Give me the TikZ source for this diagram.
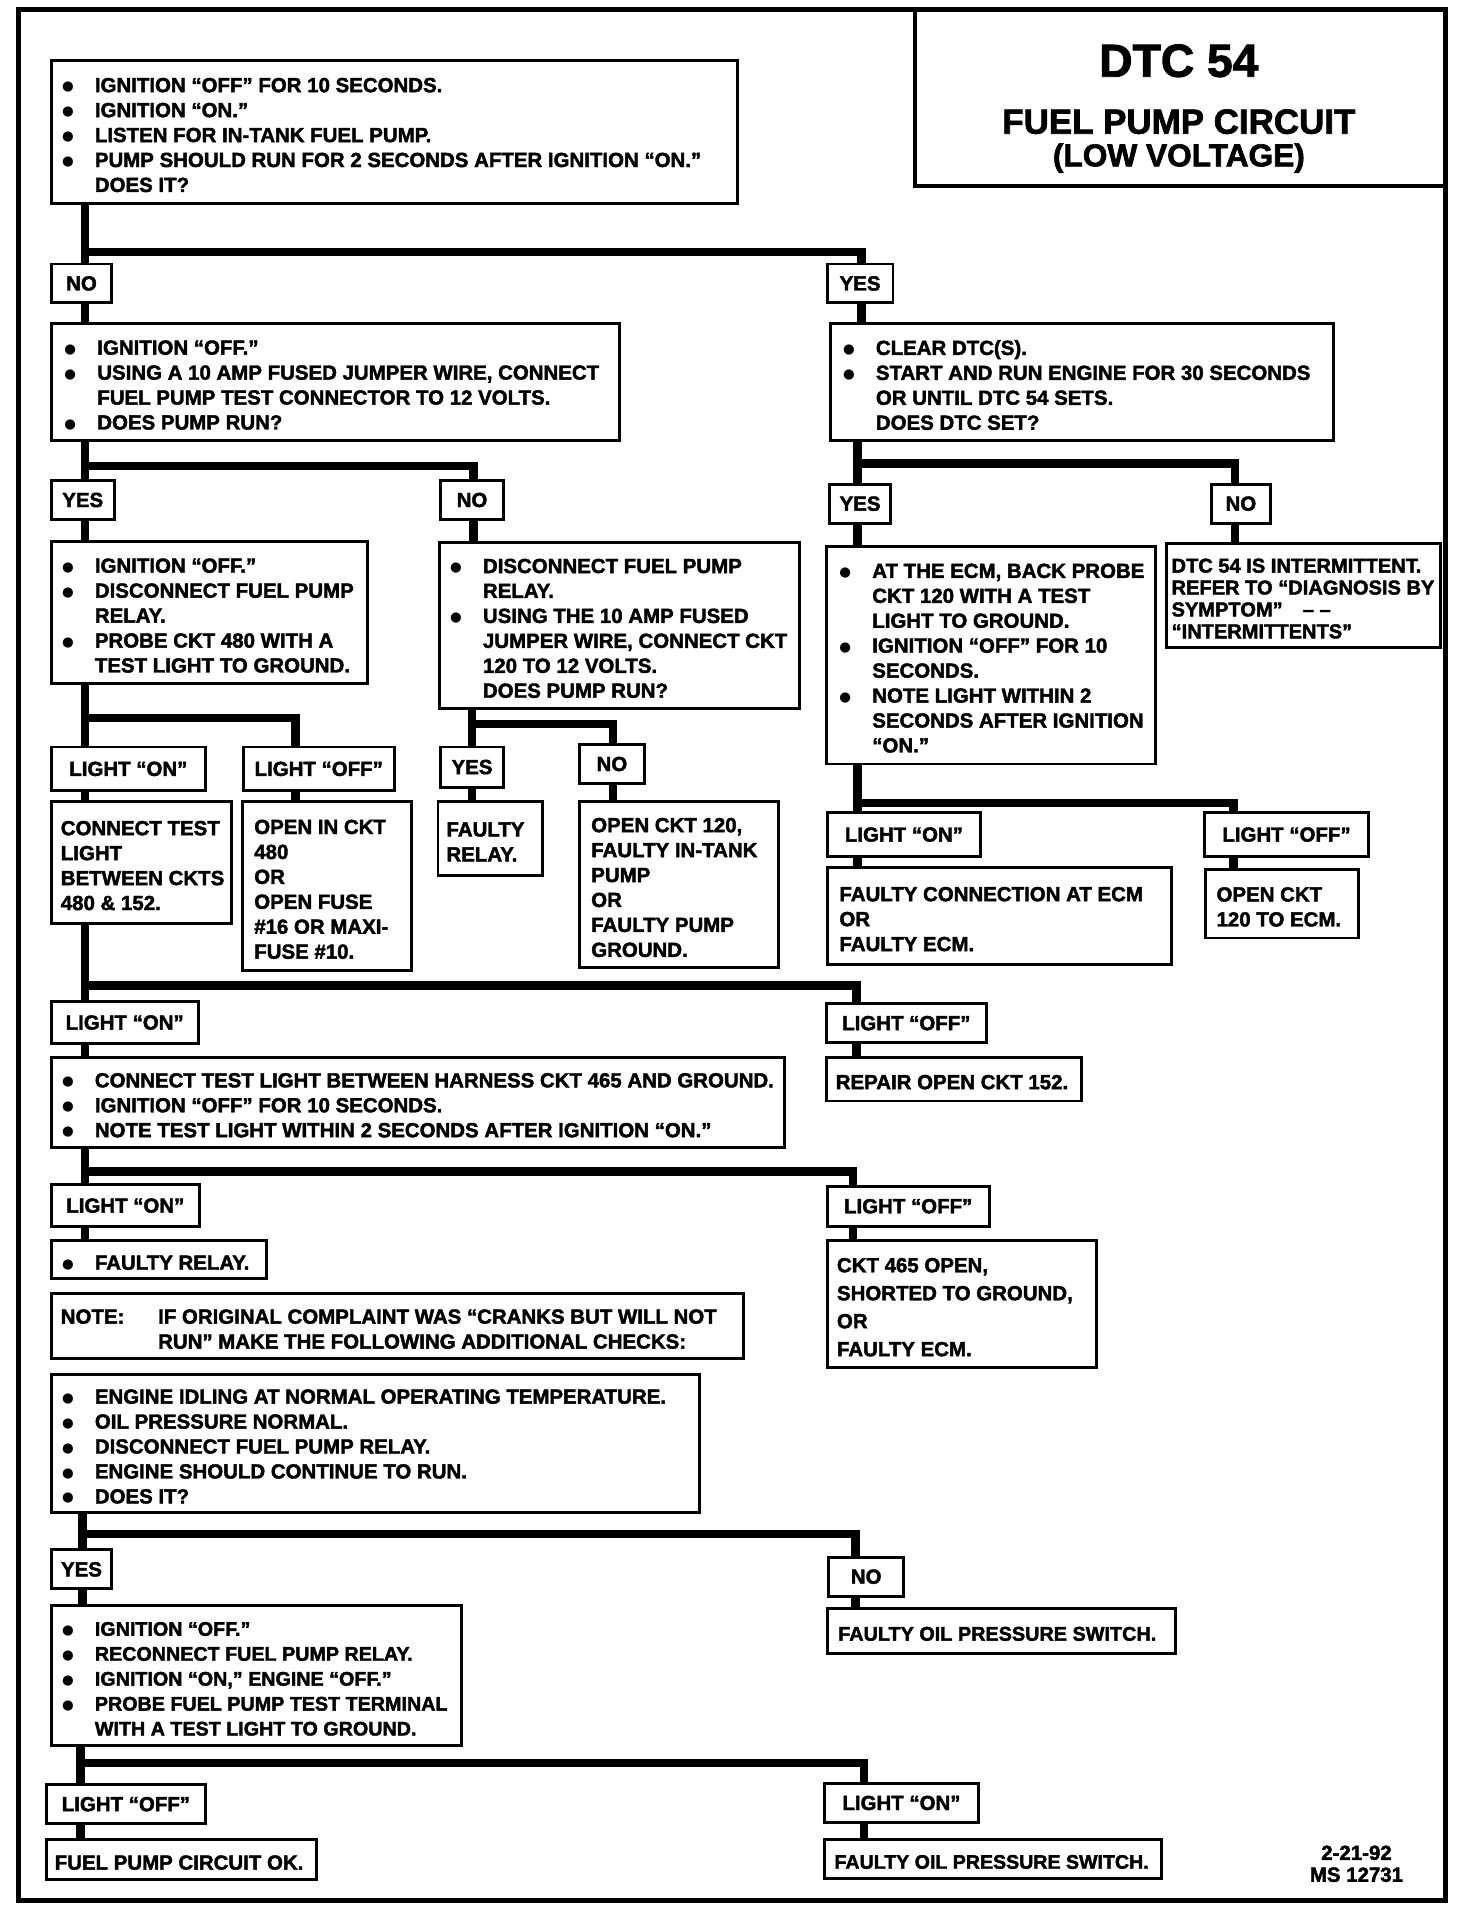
\documentclass[tikz,border=0pt]{standalone}
\usepackage{fontspec}
\setmainfont{Liberation Sans}[BoldFeatures={FakeBold=2}]
\newfontfamily\dv{DejaVu Sans}
\newcommand{\bodyfont}{\fontsize{16.8}{20.5}\selectfont\bfseries}
\newcommand{\bu}{\makebox[27pt][l]{\raisebox{1.2pt}{\dv\fontsize{11}{11}\selectfont ●}}}
\newcommand{\ind}{\hspace*{27pt}}
\begin{document}
\begin{tikzpicture}[x=1pt,y=-1pt,
  box/.style={draw, line width=2.4pt, fill=white, inner sep=0pt, outer sep=0pt},
  txt/.style={inner sep=0pt, outer sep=0pt, font=\bodyfont, align=left, yshift=-2.5pt},
  lab/.style={inner sep=0pt, outer sep=0pt, font=\bodyfont, align=center},
  conn/.style={line width=7pt, line join=miter}]
\useasboundingbox (0,0) rectangle (1210,1570);
\NewDocumentCommand{\mkbox}{O{9} O{} m m m m m m}{%
  \pgfmathsetmacro\bw{#6-#4}\pgfmathsetmacro\bh{#7-#5}%
  \node[box, minimum width=\bw pt, minimum height=\bh pt, anchor=north west] (#3) at (#4,#5) {};
  \node[txt, anchor=west, #2] (#3-t) at ([xshift=#1pt]#3.west) {#8};}
\newcommand{\mkcbox}[6]{%
  \pgfmathsetmacro\bw{#4-#2}\pgfmathsetmacro\bh{#5-#3}%
  \node[box, minimum width=\bw pt, minimum height=\bh pt, anchor=north west] (#1) at (#2,#3) {};
  \node[lab] (#1-t) at (#1.center) {#6};}
% frame and title
\node[draw, line width=4pt, minimum width=1173pt, minimum height=1554pt, anchor=north west, inner sep=0pt, outer sep=0pt] (frame) at (15,8) {};
\node[draw, line width=3pt, minimum width=436pt, minimum height=145pt, anchor=north west, inner sep=0pt, outer sep=0pt] (title) at (752,8) {};
\node[inner sep=0pt, font=\fontsize{38}{38}\selectfont\bfseries] (t1) at (969,50) {DTC 54};
\node[inner sep=0pt, font=\fontsize{28.7}{30}\selectfont\bfseries] (t2) at (969,100) {FUEL PUMP CIRCUIT};
\node[inner sep=0pt, font=\fontsize{26}{28}\selectfont\bfseries] (t3) at (969,130) {(LOW VOLTAGE)};
% boxes
\mkbox{A}{42}{50}{606}{167}{\bu IGNITION “OFF” FOR 10 SECONDS.\\ \bu IGNITION “ON.”\\ \bu LISTEN FOR IN-TANK FUEL PUMP.\\ \bu PUMP SHOULD RUN FOR 2 SECONDS AFTER IGNITION “ON.”\\ \ind DOES IT?}
\mkcbox{NO1}{42}{217}{92}{249}{NO}
\mkcbox{YES1}{680}{217}{734}{249}{YES}
\mkbox[11]{B}{42}{266}{509}{362}{\bu IGNITION “OFF.”\\ \bu USING A 10 AMP FUSED JUMPER WIRE, CONNECT\\ \ind FUEL PUMP TEST CONNECTOR TO 12 VOLTS.\\ \bu DOES PUMP RUN?}
\mkbox[10]{C}{683}{266}{1096}{362}{\bu CLEAR DTC(S).\\ \bu START AND RUN ENGINE FOR 30 SECONDS\\ \ind OR UNTIL DTC 54 SETS.\\ \ind DOES DTC SET?}
\mkcbox{YES2}{42}{395}{94}{427}{YES}
\mkcbox{NO2}{362}{395}{414}{427}{NO}
\mkcbox{YES3}{682}{398}{732}{430}{YES}
\mkcbox{NO3}{996}{398}{1044}{430}{NO}
\mkbox{D}{42}{445}{302}{562}{\bu IGNITION “OFF.”\\ \bu DISCONNECT FUEL PUMP\\ \ind RELAY.\\ \bu PROBE CKT 480 WITH A\\ \ind TEST LIGHT TO GROUND.}
\mkbox{E}{361}{446}{657}{582}{\bu DISCONNECT FUEL PUMP\\ \ind RELAY.\\ \bu USING THE 10 AMP FUSED\\ \ind JUMPER WIRE, CONNECT CKT\\ \ind 120 TO 12 VOLTS.\\ \ind DOES PUMP RUN?}
\mkbox[11]{F}{679}{449}{950}{628}{\bu AT THE ECM, BACK PROBE\\ \ind CKT 120 WITH A TEST\\ \ind LIGHT TO GROUND.\\ \bu IGNITION “OFF” FOR 10\\ \ind SECONDS.\\ \bu NOTE LIGHT WITHIN 2\\ \ind SECONDS AFTER IGNITION\\ \ind “ON.”}
\mkbox[4][font=\fontsize{16.5}{18}\selectfont\bfseries]{G}{959}{447}{1184}{532}{DTC 54 IS INTERMITTENT.\\ REFER TO “DIAGNOSIS BY\\ SYMPTOM”\quad – –\\ “INTERMITTENTS”}
\mkcbox{ON1}{42}{614}{169}{650}{LIGHT “ON”}
\mkcbox{OFF1}{200}{614}{324}{650}{LIGHT “OFF”}
\mkcbox{YES4}{362}{614}{414}{647}{YES}
\mkcbox{NO4}{476}{612}{530}{644}{NO}
\mkbox[8]{H}{42}{659}{190}{759}{CONNECT TEST\\ LIGHT\\ BETWEEN CKTS\\ 480 \& 152.}
\mkbox[10]{I}{199}{659}{338}{798}{OPEN IN CKT\\ 480\\ OR\\ OPEN FUSE\\ \#16 OR MAXI-\\ FUSE \#10.}
\mkbox[7]{J}{360}{659}{446}{720}{FAULTY\\ RELAY.}
\mkbox[10]{K}{476}{659}{640}{795}{OPEN CKT 120,\\ FAULTY IN-TANK\\ PUMP\\ OR\\ FAULTY PUMP\\ GROUND.}
\mkcbox{ON3}{680}{668}{806}{704}{LIGHT “ON”}
\mkcbox{OFF3}{990}{668}{1125}{704}{LIGHT “OFF”}
\mkbox[10]{L}{680}{713}{963}{793}{FAULTY CONNECTION AT ECM\\ OR\\ FAULTY ECM.}
\mkbox[9]{M}{991}{715}{1117}{771}{OPEN CKT\\ 120 TO ECM.}
\mkcbox{ON4}{42}{823}{163}{858}{LIGHT “ON”}
\mkcbox{OFF4}{679}{825}{811}{857}{LIGHT “OFF”}
\mkbox{N}{42}{869}{645}{943}{\bu CONNECT TEST LIGHT BETWEEN HARNESS CKT 465 AND GROUND.\\ \bu IGNITION “OFF” FOR 10 SECONDS.\\ \bu NOTE TEST LIGHT WITHIN 2 SECONDS AFTER IGNITION “ON.”}
\mkbox[8]{O}{679}{869}{889}{905}{REPAIR OPEN CKT 152.}
\mkcbox{ON5}{42}{974}{164}{1008}{LIGHT “ON”}
\mkcbox{OFF5}{680}{975}{813}{1008}{LIGHT “OFF”}
\mkbox{P}{42}{1020}{219}{1051}{\bu FAULTY RELAY.}
\mkbox[8][font=\fontsize{16.8}{23}\selectfont\bfseries]{Q}{680}{1020}{901}{1124}{CKT 465 OPEN,\\ SHORTED TO GROUND,\\ OR\\ FAULTY ECM.}
\mkbox[8]{R}{42}{1063}{611}{1117}{\makebox[80pt][l]{NOTE:}IF ORIGINAL COMPLAINT WAS “CRANKS BUT WILL NOT\\ \hspace*{80pt}RUN” MAKE THE FOLLOWING ADDITIONAL CHECKS:}
\mkbox{S}{42}{1130}{575}{1243}{\bu ENGINE IDLING AT NORMAL OPERATING TEMPERATURE.\\ \bu OIL PRESSURE NORMAL.\\ \bu DISCONNECT FUEL PUMP RELAY.\\ \bu ENGINE SHOULD CONTINUE TO RUN.\\ \bu DOES IT?}
\mkcbox{YES6}{42}{1274}{92}{1306}{YES}
\mkcbox{NO6}{681}{1280}{743}{1312}{NO}
\mkbox[9][font=\fontsize{16.2}{20.5}\selectfont\bfseries]{T}{42}{1320}{379}{1435}{\bu IGNITION “OFF.”\\ \bu RECONNECT FUEL PUMP RELAY.\\ \bu IGNITION “ON,” ENGINE “OFF.”\\ \bu PROBE FUEL PUMP TEST TERMINAL\\ \ind WITH A TEST LIGHT TO GROUND.}
\mkbox[9][font=\fontsize{16.3}{20}\selectfont\bfseries]{U}{680}{1322}{966}{1359}{FAULTY OIL PRESSURE SWITCH.}
\mkcbox{OFF7}{38}{1467}{169}{1499}{LIGHT “OFF”}
\mkcbox{ON7}{678}{1466}{804}{1498}{LIGHT “ON”}
\mkbox[7]{V}{38}{1512}{260}{1545}{FUEL PUMP CIRCUIT OK.}
\mkbox[8][font=\fontsize{16.1}{20}\selectfont\bfseries]{W}{678}{1512}{955}{1544}{FAULTY OIL PRESSURE SWITCH.}
\node[lab, font=\fontsize{16.8}{18}\selectfont\bfseries] (foot) at (1115,1532) {2-21-92\\MS 12731};
% junctions
\coordinate (j1) at (70,207);
\coordinate (j2) at (70,383);
\coordinate (j3) at (705,381);
\coordinate (j4) at (70,590);
\coordinate (j5) at (388,595);
\coordinate (j6) at (705,660);
\coordinate (j7) at (70,810);
\coordinate (j8) at (70,963);
\coordinate (j9) at (68,1261);
\coordinate (j10) at (66,1449);
% connectors
\draw[conn] (A.south -| 70,0) -- (NO1.north -| 70,0);
\draw[conn] (j1) -| (YES1.north -| 708,0);
\draw[conn] (YES1.south -| 708,0) -- (C.north -| 708,0);
\draw[conn] (NO1.south -| 70,0) -- (B.north -| 70,0);
\draw[conn] (B.south -| 70,0) -- (YES2.north -| 70,0);
\draw[conn] (j2) -| (NO2.north -| 389,0);
\draw[conn] (NO2.south -| 389,0) -- (E.north -| 389,0);
\draw[conn] (YES2.south -| 70,0) -- (D.north -| 70,0);
\draw[conn] (C.south -| 705,0) -- (YES3.north -| 705,0);
\draw[conn] (j3) -| (NO3.north -| 1015,0);
\draw[conn] (NO3.south -| 1015,0) -- (G.north -| 1015,0);
\draw[conn] (YES3.south -| 705,0) -- (F.north -| 705,0);
\draw[conn] (D.south -| 70,0) -- (ON1.north -| 70,0);
\draw[conn] (j4) -| (OFF1.north -| 243,0);
\draw[conn] (ON1.south -| 70,0) -- (H.north -| 70,0);
\draw[conn] (OFF1.south -| 243,0) -- (I.north -| 243,0);
\draw[conn] (E.south -| 388,0) -- (YES4.north -| 388,0);
\draw[conn] (j5) -| (NO4.north -| 504,0);
\draw[conn] (YES4.south -| 388,0) -- (J.north -| 388,0);
\draw[conn] (NO4.south -| 504,0) -- (K.north -| 504,0);
\draw[conn] (F.south -| 705,0) -- (ON3.north -| 705,0);
\draw[conn] (j6) -| (OFF3.north -| 1014,0);
\draw[conn] (ON3.south -| 705,0) -- (L.north -| 705,0);
\draw[conn] (OFF3.south -| 1014,0) -- (M.north -| 1014,0);
\draw[conn] (H.south -| 70,0) -- (ON4.north -| 70,0);
\draw[conn] (j7) -| (OFF4.north -| 704,0);
\draw[conn] (ON4.south -| 70,0) -- (N.north -| 70,0);
\draw[conn] (OFF4.south -| 704,0) -- (O.north -| 704,0);
\draw[conn] (N.south -| 70,0) -- (ON5.north -| 70,0);
\draw[conn] (j8) -| (OFF5.north -| 701,0);
\draw[conn] (ON5.south -| 70,0) -- (P.north -| 70,0);
\draw[conn] (OFF5.south -| 701,0) -- (Q.north -| 701,0);
\draw[conn] (S.south -| 68,0) -- (YES6.north -| 68,0);
\draw[conn] (j9) -| (NO6.north -| 703,0);
\draw[conn] (YES6.south -| 68,0) -- (T.north -| 68,0);
\draw[conn] (NO6.south -| 703,0) -- (U.north -| 703,0);
\draw[conn] (T.south -| 66,0) -- (OFF7.north -| 66,0);
\draw[conn] (j10) -| (ON7.north -| 710,0);
\draw[conn] (OFF7.south -| 66,0) -- (V.north -| 66,0);
\draw[conn] (ON7.south -| 710,0) -- (W.north -| 710,0);
\end{tikzpicture}
\end{document}
